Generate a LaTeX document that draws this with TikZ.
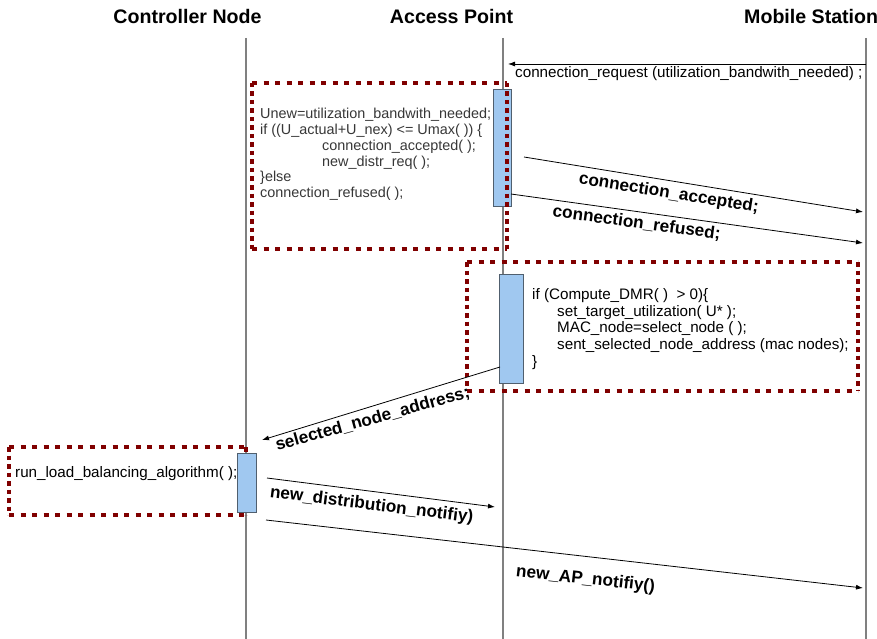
\documentclass[tikz,border=0pt]{standalone}
\usepackage{fontspec}
\setmainfont{Liberation Sans}
\usetikzlibrary{arrows.meta}
\definecolor{life}{RGB}{128,128,128}
\definecolor{actfill}{RGB}{160,200,240}
\definecolor{actdraw}{RGB}{80,95,110}
\definecolor{dotred}{RGB}{128,0,0}
\definecolor{codegray}{RGB}{55,55,55}
\begin{document}
\begin{tikzpicture}[x=1pt,y=-1pt,
  lifeline/.style={draw=life, line width=1.1pt},
  act/.style={draw=actdraw, fill=actfill, line width=0.8pt},
  dotH/.style={draw=dotred, line width=4.5pt, dash pattern=on 5pt off 6.5pt},
  dotV/.style={draw=dotred, line width=4.5pt, dash pattern=on 4.5pt off 4pt},
  msg/.style={draw=black, line width=0.8pt, -{Latex[length=7pt,width=5pt]}},
  title/.style={anchor=base, inner sep=0, font=\fontsize{19.6}{19.6}\selectfont\bfseries},
  lbl/.style={anchor=base, inner sep=0, font=\fontsize{17.2}{17.2}\selectfont\bfseries},
  codeA/.style={anchor=base west, inner sep=0, text=codegray, font=\fontsize{14.4}{14.4}\selectfont},
  codeB/.style={anchor=base west, inner sep=0, font=\fontsize{15.2}{15.2}\selectfont}]
\useasboundingbox (0,0) rectangle (877,639);
\fill[white] (0,0) rectangle (877,639);

% titles
\node[title] (tc) at (187.5,24) {Controller Node};
\node[title] (ta) at (451.5,24) {Access Point};
\node[title, anchor=base west] (tm) at (744,24) {Mobile Station};

% lifelines
\coordinate (ctop) at (246,38);  \coordinate (cbot) at (246,639);
\coordinate (atop) at (503,38);  \coordinate (abot) at (503,639);
\coordinate (mtop) at (866,38);  \coordinate (mbot) at (866,639);
\draw[lifeline] (ctop) -- (cbot);
\draw[lifeline] (atop) -- (abot);
\draw[lifeline] (mtop) -- (mbot);

% connection request
\coordinate (rq1) at (866,64); \coordinate (rq2) at (508,64);
\draw[msg] (rq1) -- (rq2);
\node[codeB] (rqlab) at (515,78) {connection\_request (utilization\_bandwith\_needed) ;};

% activation 1 and block 1
\draw[act] (493,89) rectangle (511,206);
\draw[dotH] (252,83) -- (507,83);
\draw[dotH] (252,249) -- (507,249);
\draw[dotV] (252,83) -- (252,249);
\draw[dotV] (507,83) -- (507,249);
\node[codeA] (c1) at (260,119.0) {Unew=utilization\_bandwith\_needed;};
\node[codeA] (c2) at (260,134.7) {if ((U\_actual+U\_nex) <= Umax( )) \{};
\node[codeA] (c3) at (322,150.4) {connection\_accepted( );};
\node[codeA] (c4) at (322,166.1) {new\_distr\_req( );};
\node[codeA] (c5) at (260,181.8) {\}else};
\node[codeA] (c6) at (260,197.5) {connection\_refused( );};

% accepted / refused
\coordinate (ac1) at (524,157); \coordinate (ac2) at (863,212);
\draw[msg] (ac1) -- (ac2);
\node[lbl, rotate=-9] (aclab) at (668,198) {connection\_accepted;};
\coordinate (rf1) at (511,194); \coordinate (rf2) at (863,243);
\draw[msg] (rf1) -- (rf2);
\node[lbl, rotate=-7.8] (rflab) at (636,228) {connection\_refused;};

% block 2
\draw[dotH] (467,262) -- (858,262);
\draw[dotH] (467,391) -- (858,391);
\draw[dotV] (467,262) -- (467,391);
\draw[dotV] (858,262) -- (858,391);
\draw[act] (499,274) rectangle (523,383);
\node[codeB] (d1) at (532,299.3) {if (Compute\_DMR( )~~> 0)\{};
\node[codeB] (d2) at (557,316.1) {set\_target\_utilization( U* );};
\node[codeB] (d3) at (557,332.9) {MAC\_node=select\_node ( );};
\node[codeB] (d4) at (557,349.7) {sent\_selected\_node\_address (mac nodes);};
\node[codeB] (d5) at (532,366.5) {\}};

% selected node address
\coordinate (sl1) at (500,367); \coordinate (sl2) at (262,440);
\draw[msg] (sl1) -- (sl2);
\node[lbl, rotate=15.5] (sllab) at (374,424) {selected\_node\_address;};

% block 3
\draw[dotH] (9,447) -- (246,447);
\draw[dotH] (9,515) -- (246,515);
\draw[dotV] (9,447) -- (9,515);
\draw[dotV] (246,447) -- (246,515);
\draw[act] (237,453) rectangle (256,512);
\node[codeB] (e1) at (15,477) {run\_load\_balancing\_algorithm( );};

% new distribution notify
\coordinate (nd1) at (267,478); \coordinate (nd2) at (495,507);
\draw[msg] (nd1) -- (nd2);
\node[lbl, rotate=-7] (ndlab) at (371,510) {new\_distribution\_notifiy)};

% new AP notify
\coordinate (na1) at (266,520); \coordinate (na2) at (863,588);
\draw[msg] (na1) -- (na2);
\node[lbl, rotate=-6.4] (nalab) at (585,584) {new\_AP\_notifiy()};
\end{tikzpicture}
\end{document}
